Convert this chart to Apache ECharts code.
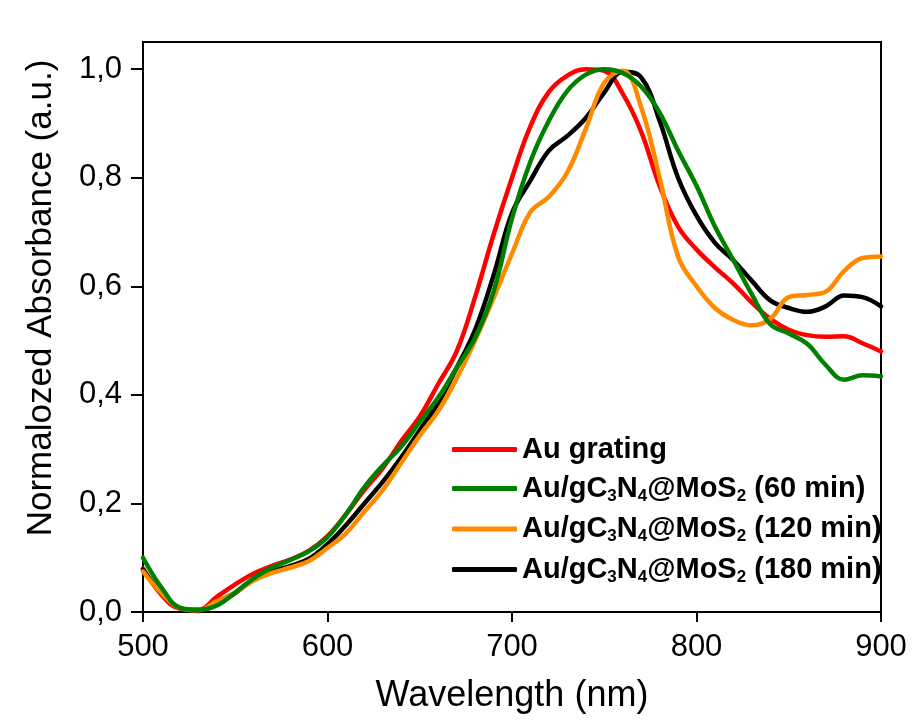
<!DOCTYPE html>
<html>
<head>
<meta charset="utf-8">
<script src="https://cdn.jsdelivr.net/npm/echarts@6/dist/echarts.min.js"></script>
<style>
  html, body { margin: 0; padding: 0; background: #fff; }
  #chart { width: 912px; height: 722px; }
</style>
</head>
<body>
<div id="chart"></div>
<script>
// ---- data ----
const wavelengths = [500,510,520,530,540,550,560,570,580,590,600,610,620,630,640,650,660,670,680,690,700,
                     710,720,730,740,750,760,770,780,790,800,810,820,830,840,850,860,870,880,890,900];

const auGrating = [0.080,0.032,0.006,0.004,0.028,0.051,0.071,0.085,0.097,0.113,0.140,0.180,0.225,0.265,0.315,0.360,0.420,0.480,0.580,0.695,0.800,
                   0.895,0.958,0.988,1.000,0.997,0.955,0.885,0.785,0.710,0.668,0.635,0.605,0.570,0.540,0.520,0.510,0.507,0.508,0.495,0.480];

const mos60 = [0.100,0.045,0.008,0.004,0.012,0.036,0.062,0.082,0.096,0.112,0.138,0.180,0.230,0.270,0.305,0.350,0.395,0.450,0.505,0.590,0.725,
               0.830,0.905,0.960,0.990,1.000,0.993,0.968,0.920,0.850,0.785,0.710,0.648,0.585,0.530,0.513,0.494,0.455,0.428,0.436,0.434];

const mos120 = [0.075,0.035,0.007,0.003,0.020,0.036,0.058,0.072,0.082,0.094,0.118,0.145,0.185,0.225,0.275,0.325,0.370,0.430,0.500,0.578,0.660,
                0.737,0.765,0.810,0.890,0.975,0.997,0.930,0.800,0.655,0.600,0.560,0.538,0.528,0.540,0.580,0.584,0.590,0.628,0.652,0.655];

const mos180 = [0.078,0.035,0.007,0.002,0.015,0.035,0.060,0.075,0.085,0.098,0.125,0.160,0.200,0.240,0.285,0.335,0.385,0.450,0.520,0.620,0.735,
                0.795,0.850,0.877,0.910,0.957,0.995,0.985,0.905,0.800,0.730,0.680,0.648,0.610,0.574,0.560,0.553,0.563,0.583,0.580,0.563];

const seriesNames = ['Au grating', 'Au/gC3N4@MoS2 (60 min)', 'Au/gC3N4@MoS2 (120 min)', 'Au/gC3N4@MoS2 (180 min)'];
const xTicks = [500, 600, 700, 800, 900];
const yTicks = [0, 0.2, 0.4, 0.6, 0.8, 1.0];

// ---- chart ----
const FONT = "'Liberation Sans', Arial, sans-serif";
const chart = echarts.init(document.getElementById('chart'), null, { renderer: 'canvas' });

function pairs(ys) { return wavelengths.map((w, i) => [w, ys[i]]); }

function legendLabel(name) {
  // render digits after C, N, S as subscripts
  return name.replace(/C3N4@MoS2/, 'C{sub|3}N{sub|4}@MoS{sub|2}');
}

const colors = {
  'Au grating': '#ff0000',
  'Au/gC3N4@MoS2 (60 min)': '#008000',
  'Au/gC3N4@MoS2 (120 min)': '#ff8a00',
  'Au/gC3N4@MoS2 (180 min)': '#000000'
};
const values = {
  'Au grating': auGrating,
  'Au/gC3N4@MoS2 (60 min)': mos60,
  'Au/gC3N4@MoS2 (120 min)': mos120,
  'Au/gC3N4@MoS2 (180 min)': mos180
};
// drawing order (last on top)
const drawOrder = [seriesNames[0], seriesNames[3], seriesNames[2], seriesNames[1]];

const option = {
  backgroundColor: '#ffffff',
  animation: false,
  grid: {
    left: 143, right: 31, top: 42, bottom: 110,
    containLabel: false, outerBoundsMode: 'none',
    show: true, borderColor: '#000', borderWidth: 2, backgroundColor: 'transparent'
  },
  legend: {
    data: seriesNames.map(n => ({ name: n, icon: 'roundRect', itemStyle: { color: colors[n] } })),
    orient: 'vertical',
    left: 452,
    top: 435,
    padding: 0,
    itemWidth: 65,
    itemHeight: 5,
    itemGap: 10,
    formatter: legendLabel,
    textStyle: {
      fontFamily: FONT, fontSize: 29, fontWeight: 'bold', color: '#000',
      rich: {
        sub: { fontFamily: FONT, fontSize: 17, fontWeight: 'bold', color: '#000', padding: [15, 0, 0, 0] }
      }
    }
  },
  xAxis: {
    type: 'value', min: 500, max: 900, interval: 100,
    name: 'Wavelength (nm)', nameLocation: 'middle', nameGap: 66,
    nameTextStyle: { fontFamily: FONT, fontSize: 36, color: '#000' },
    axisLine: { show: true, lineStyle: { color: '#000', width: 2 } },
    axisTick: { show: true, inside: false, length: 10, lineStyle: { color: '#000', width: 2 }, customValues: xTicks },
    axisLabel: { fontFamily: FONT, fontSize: 31, color: '#000', margin: 20, customValues: xTicks },
    splitLine: { show: false }
  },
  yAxis: {
    type: 'value', min: 0, max: 1.05, interval: 0.2,
    name: 'Normalozed Absorbance (a.u.)', nameLocation: 'middle', nameGap: 84,
    nameTextStyle: { fontFamily: FONT, fontSize: 35, color: '#000', padding: [0, 0, 0, 58] },
    axisLine: { show: true, lineStyle: { color: '#000', width: 2 } },
    axisTick: { show: true, inside: false, length: 12, lineStyle: { color: '#000', width: 2 }, customValues: yTicks },
    axisLabel: {
      fontFamily: FONT, fontSize: 31, color: '#000', margin: 21, customValues: yTicks,
      formatter: v => v.toFixed(1).replace('.', ',')
    },
    splitLine: { show: false }
  },
  series: drawOrder.map(n => ({
    name: n,
    type: 'line',
    data: pairs(values[n]),
    smooth: 0.4,
    showSymbol: false,
    symbol: 'none',
    clip: true,
    lineStyle: { color: colors[n], width: 4.5, cap: 'round', join: 'round' },
    itemStyle: { color: colors[n] }
  }))
};
chart.setOption(option);
</script>
</body>
</html>
